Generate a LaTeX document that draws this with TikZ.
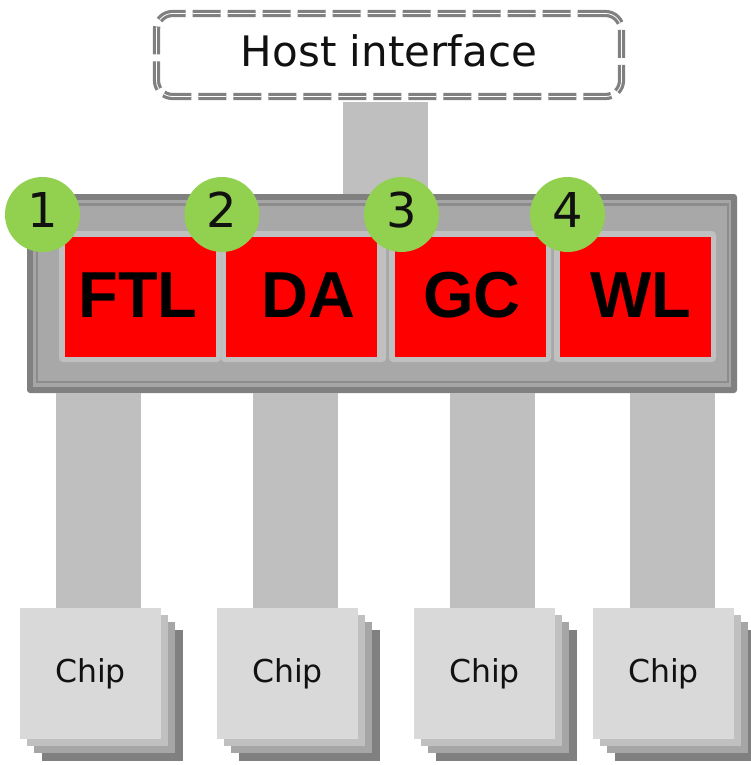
\documentclass[tikz,border=0pt]{standalone}
\usepackage{fontspec}
\setmainfont{DejaVu Sans}
\newfontfamily\heavyfont{Liberation Sans}

\definecolor{busgray}{HTML}{BFBFBF}
\definecolor{rimgray}{HTML}{808080}
\definecolor{bandgray}{HTML}{A6A6A6}
\definecolor{panelgray}{HTML}{A8A8A8}
\definecolor{seamgray}{HTML}{8C8C8C}
\definecolor{framegray}{HTML}{C0C0C0}
\definecolor{chipface}{HTML}{D9D9D9}
\definecolor{badgegreen}{HTML}{92D050}
\definecolor{ftlred}{HTML}{FF0000}
\definecolor{inkblack}{HTML}{111111}

\tikzset{
  bus/.style={draw=busgray, line width=85pt},
  hostbox/.style={rectangle, rounded corners=16pt, fill=white, draw=rimgray,
    line width=3.2pt, double=white, double distance=0.8pt,
    dash pattern=on 28pt off 7pt, minimum width=465pt, minimum height=83pt,
    inner sep=0pt, text height=32pt, text depth=8pt, text=inkblack,
    font=\fontsize{42}{50}\selectfont},
  ctrlbox/.style={rectangle, rounded corners=3pt, fill=rimgray,
    minimum width=710pt, minimum height=199pt, inner sep=0pt},
  redbox/.style={rectangle, fill=ftlred, minimum width=151pt,
    minimum height=120pt, inner sep=0pt},
  tag/.style={inner sep=0pt, text height=47pt, text depth=7pt,
    font=\heavyfont\bfseries\fontsize{65}{70}\selectfont},
  badge/.style={circle, fill=badgegreen, minimum size=75pt, inner sep=0pt,
    text height=35pt, text depth=10pt, text=inkblack,
    font=\fontsize{48}{52}\selectfont},
  chipbox/.style={rectangle, fill=chipface, minimum width=141pt,
    minimum height=131pt, inner sep=0pt, text=inkblack,
    font=\fontsize{31.5}{36}\selectfont},
}

\begin{document}
\begin{tikzpicture}[x=1pt,y=-1pt]
\fill[white] (0,0) rectangle (750,765);
\useasboundingbox (0,0) rectangle (750,765);

% controller housing with its inner rims
\node[ctrlbox] (ctrl) at (382,293.5) {};
\fill[bandgray] ([shift={(6,6)}]ctrl.north west) rectangle ([shift={(-6,-6)}]ctrl.south east);
\filldraw[fill=panelgray, draw=seamgray, line width=2.5pt]
  ([shift={(10,10.5)}]ctrl.north west) rectangle ([shift={(-9,-11)}]ctrl.south east);

% host interface and its link to the controller
\node[hostbox] (host) at (389,55) {Host interface};
\coordinate (hb) at ([xshift=-3.5pt, yshift=-4pt]host.south);
\draw[bus] (hb) -- (hb |- ctrl.north);

% module frames and modules
\fill[framegray, rounded corners=4pt] (59,231) rectangle (221,362);
\fill[framegray, rounded corners=4pt] (221,231) rectangle (386,362);
\fill[framegray, rounded corners=4pt] (389,231) rectangle (551,362);
\fill[framegray, rounded corners=4pt] (554,231) rectangle (716,362);
\draw[seamgray!60, line width=0.6pt] (221,233) -- (221,360);

\node[redbox] (ftl) at (140.5,297) {};
\node[redbox] (da)  at (301.5,297) {};
\node[redbox] (gc)  at (470.5,297) {};
\node[redbox] (wl)  at (635.5,297) {};
\node[tag] (ftl-t) at ([xshift=-2.5pt]ftl.center) {FTL};
\node[tag] (da-t)  at ([xshift=7pt]da.center) {DA};
\node[tag] (gc-t)  at ([xshift=1.5pt]gc.center) {GC};
\node[tag] (wl-t)  at ([xshift=5.5pt]wl.center) {WL};

% numbered badges
\node[badge] (n1) at (42.5,214.5) {1};
\node[badge] (n2) at (222,214.5) {2};
\node[badge] (n3) at (401.5,214.5) {3};
\node[badge] (n4) at (567.5,214.5) {4};

% flash chip stacks and their channels
\foreach \i/\cx/\bx in {1/90.5/98.5, 2/287.5/295.5, 3/484.5/492.5, 4/663.5/672.5} {
  \coordinate (chipc\i) at (\cx,673.5);
  \fill[rimgray]   ([shift={(21.5,21.5)}]chipc\i) ++(-70.5,-65.5) rectangle ++(141,131);
  \fill[bandgray]  ([shift={(14.3,14.3)}]chipc\i) ++(-70.5,-65.5) rectangle ++(141,131);
  \fill[framegray] ([shift={(7.2,7.2)}]chipc\i) ++(-70.5,-65.5) rectangle ++(141,131);
  \node[chipbox] (chip\i) at (chipc\i) {Chip};
  \coordinate (b\i) at (\bx,0);
  \draw[bus] (b\i |- ctrl.south) -- (b\i |- chip\i.north);
}
\end{tikzpicture}
\end{document}
